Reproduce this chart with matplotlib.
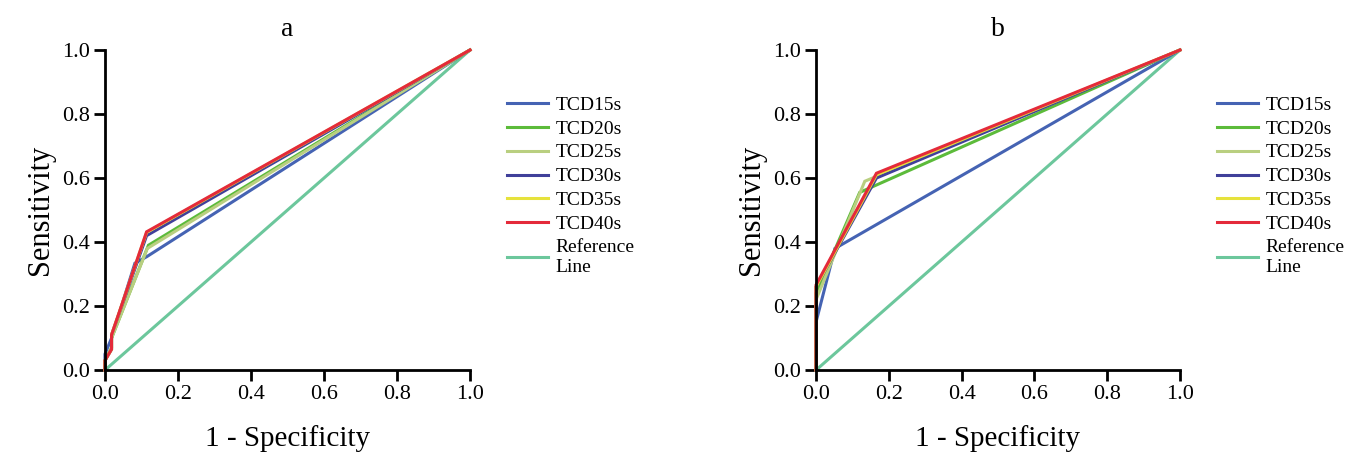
import matplotlib
matplotlib.use("Agg")
import matplotlib.pyplot as plt

plt.rcParams['font.family'] = ['Liberation Serif', 'DejaVu Serif']

series_names = ["TCD15s", "TCD20s", "TCD25s", "TCD30s", "TCD35s", "TCD40s"]
colors = ["#4563B3", "#5CBB3A", "#B9CF80", "#40409A", "#E6E23C", "#E42A3A"]
ref_color = "#6CC79C"

# Panel a ROC points (1-specificity, sensitivity)
a_fpr = {
    "TCD15s": [0.0, 0.0, 0.018, 0.082, 0.114, 1.0],
    "TCD20s": [0.0, 0.0, 0.018, 0.018, 0.119, 1.0],
    "TCD25s": [0.0, 0.0, 0.018, 0.018, 0.116, 1.0],
    "TCD30s": [0.0, 0.0, 0.018, 0.018, 0.114, 1.0],
    "TCD35s": [0.0, 0.0, 0.018, 0.018, 0.114, 1.0],
    "TCD40s": [0.0, 0.0, 0.018, 0.018, 0.114, 1.0],
}
a_tpr = {
    "TCD15s": [0.0, 0.05, 0.10, 0.334, 0.354, 1.0],
    "TCD20s": [0.0, 0.03, 0.07, 0.10, 0.390, 1.0],
    "TCD25s": [0.0, 0.03, 0.07, 0.10, 0.380, 1.0],
    "TCD30s": [0.0, 0.03, 0.065, 0.11, 0.420, 1.0],
    "TCD35s": [0.0, 0.03, 0.065, 0.11, 0.430, 1.0],
    "TCD40s": [0.0, 0.03, 0.065, 0.11, 0.432, 1.0],
}

# Panel b ROC points
b_fpr = {
    "TCD15s": [0.0, 0.0, 0.052, 1.0],
    "TCD20s": [0.0, 0.0, 0.120, 1.0],
    "TCD25s": [0.0, 0.0, 0.134, 1.0],
    "TCD30s": [0.0, 0.0, 0.166, 1.0],
    "TCD35s": [0.0, 0.0, 0.166, 1.0],
    "TCD40s": [0.0, 0.0, 0.166, 1.0],
}
b_tpr = {
    "TCD15s": [0.0, 0.15, 0.38, 1.0],
    "TCD20s": [0.0, 0.24, 0.555, 1.0],
    "TCD25s": [0.0, 0.22, 0.590, 1.0],
    "TCD30s": [0.0, 0.26, 0.600, 1.0],
    "TCD35s": [0.0, 0.26, 0.610, 1.0],
    "TCD40s": [0.0, 0.266, 0.615, 1.0],
}

ref_x = [0.0, 1.0]
ref_y = [0.0, 1.0]
ticks = [0.0, 0.2, 0.4, 0.6, 0.8, 1.0]
tick_labels = ["0.0", "0.2", "0.4", "0.6", "0.8", "1.0"]

fig = plt.figure(figsize=(13.58, 4.53), dpi=100)
ax_a = fig.add_axes([0.0773, 0.183, 0.2688, 0.7066])
ax_b = fig.add_axes([0.6009, 0.183, 0.2680, 0.7066])

for ax, fpr, tpr, title in [(ax_a, a_fpr, a_tpr, "a"), (ax_b, b_fpr, b_tpr, "b")]:
    handles = []
    for name, c in zip(series_names, colors):
        h, = ax.plot(fpr[name], tpr[name], color=c, lw=2.2, clip_on=False,
                     solid_joinstyle='miter', label=name)
        handles.append(h)
    r, = ax.plot(ref_x, ref_y, color=ref_color, lw=2.2, clip_on=False,
                 label="Reference\nLine", zorder=1)
    handles.append(r)
    ax.set_xlim(0, 1)
    ax.set_ylim(0, 1)
    for s in ["top", "right"]:
        ax.spines[s].set_visible(False)
    for s in ["left", "bottom"]:
        ax.spines[s].set_linewidth(2)
        ax.spines[s].set_color("black")
    ax.set_xticks(ticks)
    ax.set_xticklabels(tick_labels)
    ax.set_yticks(ticks)
    ax.set_yticklabels(tick_labels)
    ax.tick_params(direction='out', length=8, width=2, labelsize=16, pad=3, colors='black')
    ax.set_xlabel("1 - Specificity", fontsize=21, labelpad=15)
    ax.set_ylabel("Sensitivity", fontsize=22, labelpad=5)
    ax.set_title(title, fontsize=20, pad=10)
    ax.legend(handles=handles, loc='upper left', bbox_to_anchor=(1.08, 0.88),
              frameon=False, fontsize=14, handlelength=2.1, handletextpad=0.4,
              labelspacing=0.32, borderaxespad=0)

fig.savefig("out.png", dpi=100)
